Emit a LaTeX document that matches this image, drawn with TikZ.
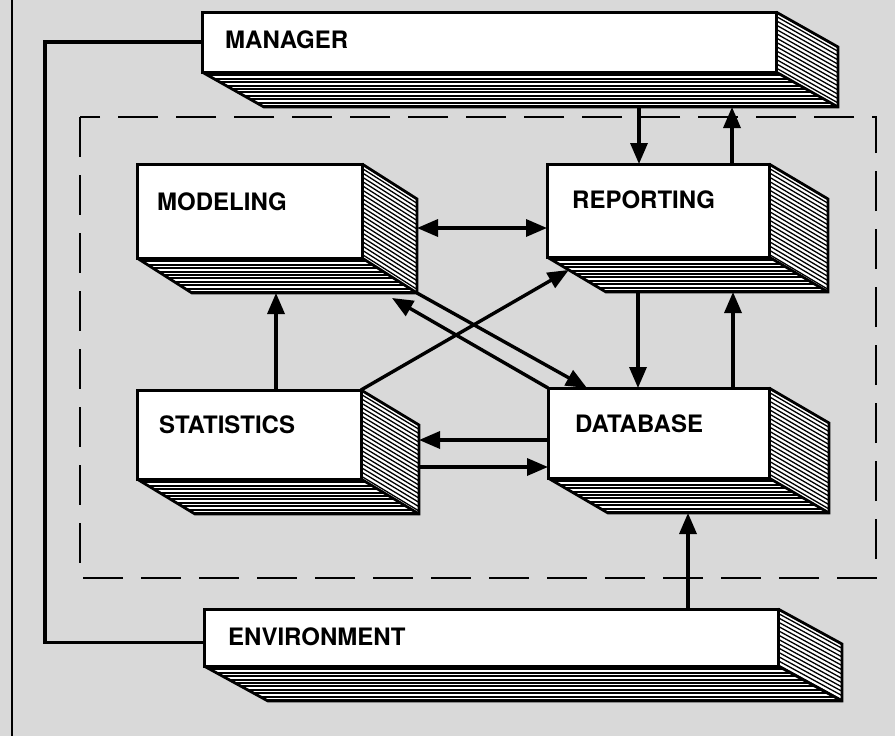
\documentclass[tikz,border=0pt]{standalone}
\usepackage{fontspec}
\setmainfont{TeX Gyre Heros}
\usetikzlibrary{arrows.meta,calc}
\tikzset{
  frontface/.style={draw, line width=3pt, fill=white, inner sep=0pt, outer sep=0pt, anchor=north west},
  edgeline/.style={line width=2.8pt, line join=miter},
  hatchb/.style={line width=1.9pt},
  hatchs/.style={line width=1.3pt},
  arr/.style={line width=3.4pt, -{Triangle[length=21pt,width=17pt]}},
  arrboth/.style={line width=3.4pt, {Triangle[length=21pt,width=17pt]}-{Triangle[length=21pt,width=17pt]}},
  dashframe/.style={line width=2.8pt, dash pattern=on 40pt off 18pt},
  loopline/.style={line width=3.2pt},
  lbl/.style={font=\fontsize{24}{25}\selectfont\bfseries, anchor=base west, inner sep=0pt}
}
\newcommand\boxextrude[3]{%
  \coordinate (#1-bsw) at ($(#1.south west)+(#2,#3)$);
  \coordinate (#1-bse) at ($(#1.south east)+(#2,#3)$);
  \coordinate (#1-tne) at ($(#1.north east)+(#2,#3)$);
  \begin{scope}
    \clip (#1.south west) -- (#1.south east) -- (#1-bse) -- (#1-bsw) -- cycle;
    \fill[white] (#1.south west) rectangle (#1-bse);
    \foreach \k in {1,...,11} \draw[hatchb] ([yshift=-\k*3.4pt]#1.south west) -- ++(800,0);
  \end{scope}
  \begin{scope}
    \clip (#1.north east) -- (#1-tne) -- (#1-bse) -- (#1.south east) -- cycle;
    \fill[white] (#1.north east) rectangle (#1-bse);
    \foreach \k in {0,...,30} \draw[hatchs] ([yshift=-\k*4.3pt]#1.north east) -- ++(#2,#3);
  \end{scope}
  \draw[edgeline] (#1.south west) -- (#1-bsw) -- (#1-bse) -- (#1-tne) -- (#1.north east);
  \draw[edgeline] (#1.south east) -- (#1-bse);
  \draw[line width=3pt] (#1.south west) rectangle (#1.north east);
}
\begin{document}
\begin{tikzpicture}[x=1pt,y=-1pt]
\useasboundingbox (0,0) rectangle (895,736);
\fill[black!15] (0,0) rectangle (895,736);
\draw[line width=1.5pt] (12,0) -- (12,736);

% dashed system boundary
\draw[dashframe] (80,117) rectangle (876,578);

% boxes
\node[frontface, minimum width=574pt, minimum height=60pt] (mgr) at (202,12) {};
\boxextrude{mgr}{62}{35}
\node[frontface, minimum width=574pt, minimum height=57pt] (env) at (204,609) {};
\boxextrude{env}{64}{35}
\node[frontface, minimum width=225pt, minimum height=94pt] (mod) at (137,164) {};
\boxextrude{mod}{55}{35}
\node[frontface, minimum width=222pt, minimum height=93pt] (rep) at (547,164) {};
\boxextrude{rep}{59}{35}
\node[frontface, minimum width=224pt, minimum height=89pt] (st) at (137,390) {};
\boxextrude{st}{58}{35}
\node[frontface, minimum width=221pt, minimum height=90pt] (db) at (548,388) {};
\boxextrude{db}{60}{35}

% labels
\node[lbl] (mgrl) at ([xshift=23pt,yshift=-36pt]mgr.north west) {MANAGER};
\node[lbl] (envl) at ([xshift=24pt,yshift=-36pt]env.north west) {ENVIRONMENT};
\node[lbl] (modl) at ([xshift=20pt,yshift=-46pt]mod.north west) {MODELING};
\node[lbl] (repl) at ([xshift=25pt,yshift=-44pt]rep.north west) {REPORTING};
\node[lbl] (stl) at ([xshift=22pt,yshift=-43pt]st.north west) {STATISTICS};
\node[lbl] (dbl) at ([xshift=27pt,yshift=-44pt]db.north west) {DATABASE};

% connector coordinates
\coordinate (d1) at ([xshift=92pt]rep.north west);
\coordinate (u1) at ([xshift=185pt]rep.north west);
\coordinate (h1) at ([yshift=-64pt]rep.north west);
\coordinate (v1) at ([xshift=139pt]st.north west);
\coordinate (d2) at ([xshift=90pt]db.north west);
\coordinate (u2) at ([xshift=185pt]db.north west);
\coordinate (h2) at ([yshift=-52pt]db.north west);
\coordinate (h3) at ([yshift=-79pt]db.north west);
\coordinate (v2) at ([xshift=484pt]env.north west);

% arrows
\draw[arr] (d1 |- mgr-bsw) -- (d1);
\draw[arr] (u1) -- (u1 |- mgr-bsw);
\draw[arrboth] (h1 -| mod-tne) -- (h1);
\draw[arr] (v1) -- (v1 |- mod-bsw);
\draw[arr] (d2 |- rep-bsw) -- (d2);
\draw[arr] (u2) -- (u2 |- rep-bsw);
\draw[arr] (h2) -- (h2 -| st-tne);
\draw[arr] (h3 -| st-tne) -- (h3);
\draw[arr] (st.north east) -- ($(rep.south west)!0.37!(rep-bsw)$);
\draw[arr] (mod-bse) -- ([xshift=39pt]db.north west);
\draw[arr] (db.north west) -- ($(mod-bse)+(-25,5)$);
\draw[arr] (v2) -- (v2 |- db-bsw);

% feedback loop
\draw[loopline] (mgr.west) -- ++(-157,0) |- ([yshift=-5pt]env.west);
\end{tikzpicture}
\end{document}
